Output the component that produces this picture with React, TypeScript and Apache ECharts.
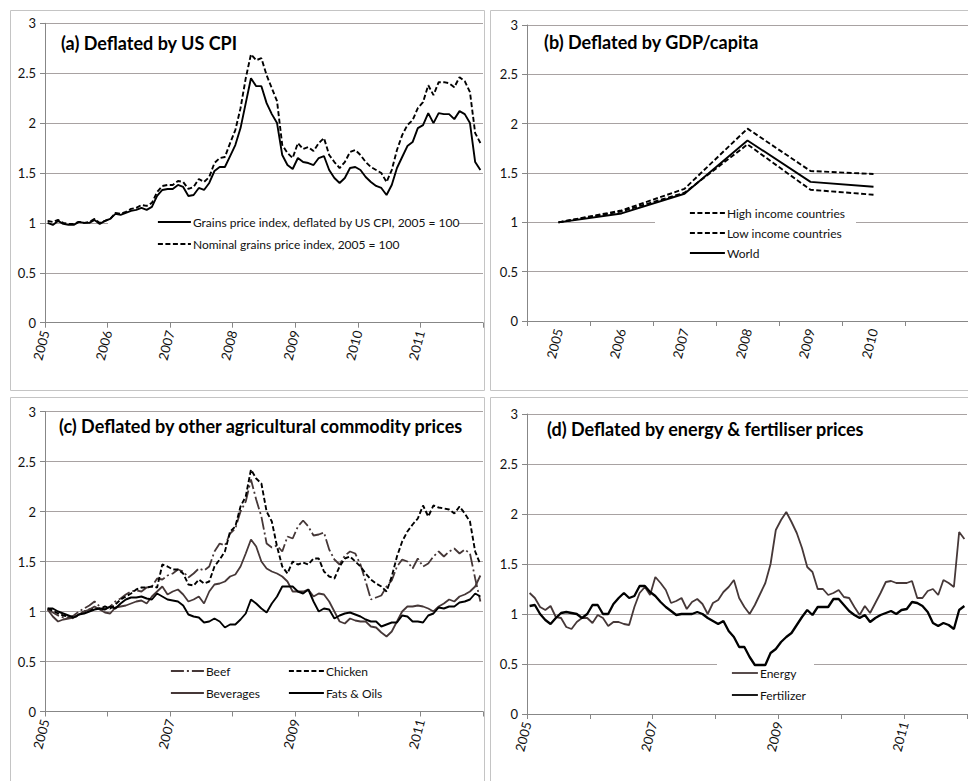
import React, { useEffect, useRef } from 'react';
import * as echarts from 'echarts';

// ---------- tick labels ----------
const yearLabelsEvery = ['2005', '2006', '2007', '2008', '2009', '2010', '2011'];
const yearLabelsAlt = ['2005', '', '2007', '', '2009', '', '2011'];
const gdpYears = ['2005', '2006', '2007', '2008', '2009', '2010', ''];

// ---------- (a) monthly, Jan 2005 - Dec 2011 ----------
const grainsDeflated = [
  1.00, 0.98, 1.02, 0.99, 0.98, 0.98, 1.01, 1.00, 1.00, 1.03, 0.99, 1.02,
  1.04, 1.09, 1.08, 1.10, 1.12, 1.13, 1.15, 1.13, 1.16, 1.27, 1.33, 1.34,
  1.34, 1.38, 1.36, 1.27, 1.28, 1.35, 1.33, 1.40, 1.52, 1.56, 1.56, 1.67,
  1.78, 1.95, 2.20, 2.45, 2.37, 2.37, 2.20, 2.09, 2.00, 1.68, 1.58, 1.54,
  1.65, 1.61, 1.60, 1.58, 1.65, 1.67, 1.53, 1.45, 1.40, 1.45, 1.55, 1.56,
  1.53, 1.46, 1.41, 1.37, 1.35, 1.28, 1.38, 1.55, 1.66, 1.77, 1.81, 1.95,
  1.98, 2.10, 2.00, 2.10, 2.09, 2.09, 2.04, 2.12, 2.09, 2.00, 1.61, 1.53,
];
const grainsNominal = [
  1.02, 1.01, 1.03, 1.00, 0.99, 0.99, 1.01, 1.00, 1.01, 1.04, 1.00, 1.02,
  1.04, 1.10, 1.09, 1.11, 1.14, 1.15, 1.18, 1.17, 1.20, 1.31, 1.37, 1.38,
  1.38, 1.42, 1.41, 1.34, 1.36, 1.44, 1.41, 1.46, 1.60, 1.65, 1.66, 1.80,
  1.93, 2.15, 2.45, 2.69, 2.63, 2.65, 2.48, 2.35, 2.22, 1.78, 1.70, 1.65,
  1.80, 1.74, 1.76, 1.72, 1.80, 1.85, 1.68, 1.61, 1.55, 1.61, 1.71, 1.73,
  1.68, 1.61, 1.56, 1.53, 1.50, 1.41, 1.53, 1.73, 1.88, 1.98, 2.03, 2.15,
  2.21, 2.38, 2.28, 2.41, 2.41, 2.40, 2.36, 2.46, 2.42, 2.31, 1.90, 1.80,
];

// ---------- (b) annual ----------
const highIncome = [1.0, 1.12, 1.34, 1.95, 1.52, 1.49];
const lowIncome = [1.0, 1.11, 1.30, 1.79, 1.33, 1.28];
const world = [1.0, 1.09, 1.29, 1.83, 1.41, 1.36];

// ---------- (c) monthly ----------
const beef = [
  1.02, 0.99, 0.96, 0.94, 0.94, 0.96, 1.00, 1.03, 1.06, 1.10, 1.05, 1.02,
  1.05, 1.10, 1.13, 1.17, 1.20, 1.21, 1.20, 1.24, 1.25, 1.33, 1.32, 1.36,
  1.38, 1.42, 1.40, 1.34, 1.38, 1.43, 1.41, 1.45, 1.60, 1.68, 1.66, 1.78,
  1.83, 2.00, 2.10, 2.32, 2.12, 1.95, 1.68, 1.64, 1.66, 1.60, 1.75, 1.73,
  1.85, 1.91, 1.85, 1.76, 1.77, 1.79, 1.62, 1.52, 1.47, 1.56, 1.60, 1.58,
  1.47, 1.30, 1.12, 1.14, 1.16, 1.25, 1.31, 1.45, 1.52, 1.50, 1.43, 1.53,
  1.45, 1.48, 1.55, 1.60, 1.55, 1.60, 1.63, 1.58, 1.62, 1.58, 1.33, 1.10,
];
const chicken = [
  1.03, 1.01, 0.98, 0.96, 0.95, 0.93, 0.97, 1.00, 1.02, 1.03, 1.03, 1.05,
  1.03, 1.07, 1.12, 1.15, 1.18, 1.22, 1.24, 1.24, 1.25, 1.24, 1.47, 1.45,
  1.42, 1.42, 1.38, 1.27, 1.26, 1.32, 1.28, 1.30, 1.45, 1.52, 1.60, 1.80,
  1.85, 2.05, 2.15, 2.42, 2.33, 2.28, 2.00, 1.90, 1.65, 1.45, 1.38, 1.50,
  1.47, 1.49, 1.47, 1.53, 1.53, 1.40, 1.35, 1.33, 1.45, 1.53, 1.55, 1.50,
  1.45, 1.38, 1.32, 1.28, 1.25, 1.20, 1.35, 1.55, 1.70, 1.80, 1.87, 1.93,
  2.06, 1.95, 2.06, 2.04, 2.03, 2.02, 1.98, 2.05, 1.98, 1.90, 1.60, 1.47,
];
const beverages = [
  1.02, 0.95, 0.90, 0.92, 0.93, 0.94, 0.97, 1.00, 1.02, 1.05, 1.02, 0.99,
  0.98, 1.04, 1.05, 1.06, 1.08, 1.10, 1.11, 1.08, 1.15, 1.20, 1.25, 1.17,
  1.20, 1.22, 1.17, 1.10, 1.12, 1.15, 1.08, 1.20, 1.27, 1.28, 1.30, 1.35,
  1.37, 1.45, 1.58, 1.72, 1.65, 1.50, 1.43, 1.40, 1.38, 1.35, 1.30, 1.20,
  1.20, 1.20, 1.22, 1.15, 1.18, 1.17, 1.10, 1.00, 0.90, 0.88, 0.93, 0.91,
  0.90, 0.90, 0.85, 0.84, 0.79, 0.75, 0.80, 0.90, 1.00, 1.05, 1.05, 1.06,
  1.05, 1.03, 1.00, 1.05, 1.08, 1.12, 1.10, 1.15, 1.17, 1.20, 1.25, 1.36,
];
const fatsOils = [
  1.03, 1.03, 1.00, 0.98, 0.96, 0.94, 0.97, 0.98, 1.00, 1.02, 1.03, 1.02,
  1.05, 1.03, 1.08, 1.12, 1.14, 1.14, 1.15, 1.13, 1.12, 1.18, 1.15, 1.12,
  1.11, 1.10, 1.06, 0.97, 0.95, 0.94, 0.89, 0.90, 0.93, 0.90, 0.84, 0.87,
  0.87, 0.92, 0.98, 1.12, 1.08, 1.03, 0.99, 1.08, 1.15, 1.25, 1.25, 1.25,
  1.20, 1.18, 1.22, 1.10, 1.00, 1.03, 1.02, 0.93, 0.96, 0.98, 0.99, 0.97,
  0.95, 0.92, 0.90, 0.90, 0.85, 0.87, 0.89, 0.89, 0.96, 0.95, 0.90, 0.90,
  0.89, 0.96, 0.98, 1.04, 1.03, 1.05, 1.05, 1.09, 1.10, 1.12, 1.18, 1.15,
];

// ---------- (d) monthly ----------
const energy = [
  1.21, 1.16, 1.07, 1.04, 1.08, 0.97, 0.96, 0.87, 0.85, 0.92, 0.96, 0.96,
  0.91, 0.99, 0.96, 0.88, 0.92, 0.92, 0.90, 0.89, 1.07, 1.21, 1.27, 1.19,
  1.37, 1.31, 1.24, 1.11, 1.13, 1.16, 1.05, 1.12, 1.15, 1.10, 1.00, 1.11,
  1.14, 1.22, 1.27, 1.34, 1.16, 1.07, 1.00, 1.09, 1.20, 1.31, 1.50, 1.84,
  1.94, 2.02, 1.92, 1.81, 1.66, 1.47, 1.42, 1.25, 1.25, 1.19, 1.21, 1.24,
  1.17, 1.16, 1.07, 0.99, 1.08, 1.01, 1.11, 1.21, 1.32, 1.33, 1.31, 1.31,
  1.31, 1.33, 1.16, 1.16, 1.23, 1.25, 1.19, 1.34, 1.31, 1.27, 1.82, 1.75,
];
const fertilizer = [
  1.08, 1.09, 1.00, 0.94, 0.90, 0.96, 1.01, 1.02, 1.01, 1.00, 0.96, 1.00,
  1.09, 1.09, 1.00, 1.00, 1.10, 1.16, 1.21, 1.16, 1.18, 1.28, 1.28, 1.22,
  1.18, 1.12, 1.07, 1.03, 0.99, 1.00, 1.00, 1.00, 1.02, 1.00, 0.96, 0.93,
  0.90, 0.93, 0.83, 0.77, 0.67, 0.67, 0.57, 0.49, 0.49, 0.49, 0.61, 0.65,
  0.72, 0.77, 0.81, 0.89, 0.97, 1.04, 0.99, 1.07, 1.07, 1.07, 1.15, 1.15,
  1.09, 1.03, 0.99, 0.96, 0.99, 0.92, 0.96, 0.99, 1.01, 1.03, 1.00, 1.04,
  1.05, 1.12, 1.11, 1.08, 1.02, 0.91, 0.88, 0.91, 0.89, 0.85, 1.04, 1.08,
];

// ---------- styling ----------
const FONT = 'Lato, "Open Sans", sans-serif';
const TEXT = '#111111';
const AXIS = '#878787';
const GRID = '#a8a2a2';
const FRAME = '#c4c4c4';
const BLACK = '#000000';
const BROWN = '#463838';
const DASH = [5, 2.5];
const DASHDOT = [13, 3, 2, 3];

// monthly points are placed mid-month on a month axis
const monthly = (arr: number[]) => arr.map((v, i) => [i + 0.5, v]);

function yAxis(gridIndex: number) {
  return {
    type: 'value', gridIndex, min: 0, max: 3, interval: 0.5,
    axisLine: { show: true, lineStyle: { color: AXIS, width: 1 } },
    axisTick: { show: true, length: 5, lineStyle: { color: AXIS } },
    splitLine: { show: true, lineStyle: { color: GRID, width: 1 } },
    axisLabel: { margin: 9, fontFamily: FONT, fontSize: 13, color: TEXT },
  };
}

function monthAxis(gridIndex: number, labels: string[]) {
  return {
    type: 'value', gridIndex, min: 0, max: 84, interval: 12,
    axisLine: { show: true, onZero: false, lineStyle: { color: AXIS, width: 1 } },
    axisTick: { show: true, length: 5, lineStyle: { color: AXIS } },
    splitLine: { show: false },
    axisLabel: {
      rotate: 75, margin: 8, fontFamily: FONT, fontSize: 13, color: TEXT,
      formatter: (v: number) => labels[Math.round(v / 12)] ?? '',
    },
  };
}

function line(name: string, xi: number, data: any[], color: string, width: number, type: any) {
  return {
    name, type: 'line', xAxisIndex: xi, yAxisIndex: xi, data,
    symbol: 'none', showSymbol: false, smooth: false,
    lineStyle: { color, width, type },
    itemStyle: { color },
    emphasis: { disabled: true },
  };
}

const legendBase = {
  orient: 'vertical', padding: 0, itemWidth: 33, itemHeight: 12, itemGap: 10,
  textStyle: { fontFamily: FONT, fontSize: 12, color: TEXT, lineHeight: 12, padding: [0, 0, 0, -3] },
  itemStyle: { opacity: 0 },
  lineStyle: { width: 1.8 },
  selectedMode: false,
};

const titleStyle = { fontFamily: FONT, fontSize: 18, fontWeight: 'bold', color: BLACK, lineHeight: 20 };

function rect(x: number, y: number, w: number, h: number, style: any) {
  return { type: 'rect', z: 1, silent: true, shape: { x, y, width: w, height: h }, style };
}

export default function App() {
  const ref = useRef<HTMLDivElement>(null);
  useEffect(() => {
    if (!ref.current) return;
    const chart = echarts.init(ref.current, undefined, { renderer: 'svg' });
    const option: any = {
      animation: false,
      backgroundColor: '#ffffff',
      title: [
        { text: '(a) Deflated by US CPI', left: 61, top: 33, padding: 0, textStyle: titleStyle },
        { text: '(b) Deflated by GDP/capita', left: 544, top: 32, padding: 0, textStyle: titleStyle },
        { text: '(c) Deflated by other agricultural commodity prices', left: 59, top: 416, padding: 0, textStyle: titleStyle },
        { text: '(d) Deflated by energy & fertiliser prices', left: 547, top: 419, padding: 0, textStyle: titleStyle },
      ],
      grid: [
        { left: 45, top: 23.3, width: 438, height: 299.4 },
        { left: 527, top: 25, width: 447, height: 296 },
        { left: 45, top: 411.5, width: 438, height: 300 },
        { left: 527, top: 414, width: 440, height: 300 },
      ],
      xAxis: [
        monthAxis(0, yearLabelsEvery),
        {
          type: 'category', gridIndex: 1, data: gdpYears, boundaryGap: true,
          axisLine: { show: true, lineStyle: { color: AXIS, width: 1 } },
          axisTick: { show: true, length: 5, interval: 0, alignWithLabel: false, lineStyle: { color: AXIS } },
          splitLine: { show: false },
          axisLabel: { interval: 0, rotate: 75, margin: 8, fontFamily: FONT, fontSize: 13, color: TEXT },
        },
        monthAxis(2, yearLabelsAlt),
        monthAxis(3, yearLabelsAlt),
      ],
      yAxis: [yAxis(0), yAxis(1), yAxis(2), yAxis(3)],
      legend: [
        { ...legendBase, left: 157, top: 216, data: ['Grains price index, deflated by US CPI, 2005 = 100', 'Nominal grains price index, 2005 = 100'] },
        { ...legendBase, left: 689, top: 207, itemGap: 8, itemWidth: 35, data: ['High income countries', 'Low income countries', 'World'] },
        { ...legendBase, left: 170, top: 665, data: ['Beef', 'Beverages'] },
        { ...legendBase, left: 288, top: 665, itemWidth: 35, data: ['Chicken', 'Fats & Oils'] },
        { ...legendBase, left: 731, top: 667, itemWidth: 26, data: ['Energy', 'Fertilizer'] },
      ],
      graphic: {
        elements: [
          rect(10.5, 10.5, 474, 380, { fill: 'none', stroke: FRAME, lineWidth: 1 }),
          rect(490.5, 10.5, 500, 380, { fill: 'none', stroke: FRAME, lineWidth: 1 }),
          rect(10.5, 397.5, 474, 400, { fill: 'none', stroke: FRAME, lineWidth: 1 }),
          rect(490.5, 397.5, 500, 400, { fill: 'none', stroke: FRAME, lineWidth: 1 }),
          rect(108, 214, 350, 42, { fill: '#ffffff' }),
          rect(655, 203, 201, 58, { fill: '#ffffff' }),
          rect(717, 657, 97, 48, { fill: '#ffffff' }),
        ],
      },
      series: [
        line('Grains price index, deflated by US CPI, 2005 = 100', 0, monthly(grainsDeflated), BLACK, 1.9, 'solid'),
        line('Nominal grains price index, 2005 = 100', 0, monthly(grainsNominal), BLACK, 1.9, DASH),
        line('High income countries', 1, highIncome, BLACK, 1.9, DASH),
        line('Low income countries', 1, lowIncome, BLACK, 1.9, DASH),
        line('World', 1, world, BLACK, 1.9, 'solid'),
        line('Beef', 2, monthly(beef), BROWN, 1.8, DASHDOT),
        line('Chicken', 2, monthly(chicken), BLACK, 1.9, DASH),
        line('Beverages', 2, monthly(beverages), BROWN, 1.8, 'solid'),
        line('Fats & Oils', 2, monthly(fatsOils), BLACK, 1.9, 'solid'),
        line('Energy', 3, monthly(energy), BROWN, 1.8, 'solid'),
        line('Fertilizer', 3, monthly(fertilizer), BLACK, 2.3, 'solid'),
      ],
    };
    chart.setOption(option);
    return () => chart.dispose();
  }, []);
  return (
    <div
      ref={ref}
      style={{ position: 'absolute', left: 0, top: 0, width: 968, height: 781, background: '#fff' }}
    />
  );
}
